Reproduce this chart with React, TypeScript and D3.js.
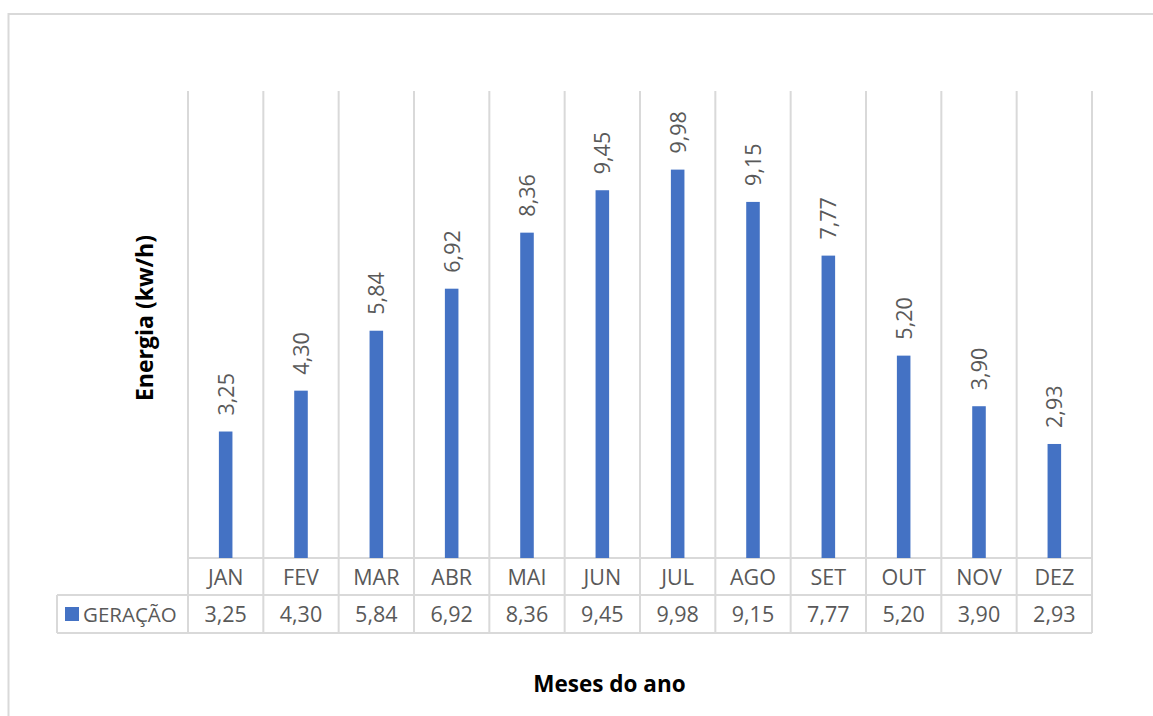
import * as React from 'react';
import * as d3 from 'd3';

const months = ['JAN', 'FEV', 'MAR', 'ABR', 'MAI', 'JUN', 'JUL', 'AGO', 'SET', 'OUT', 'NOV', 'DEZ'];
const geracao = [3.25, 4.3, 5.84, 6.92, 8.36, 9.45, 9.98, 9.15, 7.77, 5.2, 3.9, 2.93];
const seriesName = 'GERAÇÃO';
const yTitle = 'Energia (kw/h)';
const xTitle = 'Meses do ano';

const W = 1153;
const H = 716;
const FONT = '"Open Sans", "Noto Sans", sans-serif';
const TEXT = '#595959';
const GRID = '#d9d9d9';
const BAR = '#4472C4';
const FS = 21.5;

// plot / table geometry
const plot = { left: 188, right: 1092, top: 91, bottom: 558 };
const table = { left: 57, row1: 595, row2: 633 };

const fmt = (v: number) => d3.format('.2f')(v).replace('.', ',');

export default function App() {
  const x = d3.scaleBand<string>().domain(months).range([plot.left, plot.right]);
  const y = d3.scaleLinear().domain([0, 12]).range([plot.bottom, plot.top]);
  const barW = x.bandwidth() * 0.18;
  const bounds = months.map((m) => x(m) as number).concat(plot.right);

  return (
    <svg
      width={W}
      height={H}
      style={{ position: 'absolute', left: 0, top: 0, background: '#fff' }}
      fontFamily={FONT}
    >
      {/* chart border */}
      <rect x={8.5} y={14} width={W + 20} height={H + 20} fill="none" stroke={GRID} strokeWidth={2} />

      {/* vertical gridlines through plot and table */}
      {bounds.map((bx, i) => (
        <line key={i} x1={bx} x2={bx} y1={plot.top} y2={table.row2} stroke={GRID} strokeWidth={2} />
      ))}
      {/* table horizontals */}
      <line x1={plot.left} x2={plot.right} y1={plot.bottom} y2={plot.bottom} stroke={GRID} strokeWidth={2} />
      <line x1={table.left} x2={plot.right} y1={table.row1} y2={table.row1} stroke={GRID} strokeWidth={2} />
      <line x1={table.left} x2={plot.right} y1={table.row2} y2={table.row2} stroke={GRID} strokeWidth={2} />
      <line x1={table.left} x2={table.left} y1={table.row1} y2={table.row2} stroke={GRID} strokeWidth={2} />

      {/* bars */}
      {months.map((m, i) => {
        const cx = (x(m) as number) + x.bandwidth() / 2;
        return (
          <rect
            key={m}
            x={cx - barW / 2}
            y={y(geracao[i])}
            width={barW}
            height={y(0) - y(geracao[i])}
            fill={BAR}
          />
        );
      })}

      {/* data labels */}
      {months.map((m, i) => {
        const cx = (x(m) as number) + x.bandwidth() / 2 + 8;
        const ty = y(geracao[i]) - 16;
        return (
          <text
            key={m}
            transform={`translate(${cx},${ty}) rotate(-90)`}
            fontSize={FS}
            fill={TEXT}
          >
            {fmt(geracao[i])}
          </text>
        );
      })}

      {/* table: categories */}
      {months.map((m) => (
        <text
          key={m}
          x={(x(m) as number) + x.bandwidth() / 2}
          y={584.5}
          textAnchor="middle"
          fontSize={FS}
          fill={TEXT}
        >
          {m}
        </text>
      ))}

      {/* table: series row */}
      <rect x={65} y={607} width={14} height={14} fill={BAR} />
      <text x={83} y={622} fontSize={20.5} fill={TEXT}>{seriesName}</text>
      {months.map((m, i) => (
        <text
          key={m}
          x={(x(m) as number) + x.bandwidth() / 2}
          y={622}
          textAnchor="middle"
          fontSize={FS}
          fill={TEXT}
        >
          {fmt(geracao[i])}
        </text>
      ))}

      {/* axis titles */}
      <text
        transform="translate(153,318) rotate(-90)"
        textAnchor="middle"
        fontSize={23}
        fontWeight="bold"
        fill="#000"
      >
        {yTitle}
      </text>
      <text x={609.5} y={692} textAnchor="middle" fontSize={22.5} fontWeight="bold" fill="#000">
        {xTitle}
      </text>
    </svg>
  );
}
